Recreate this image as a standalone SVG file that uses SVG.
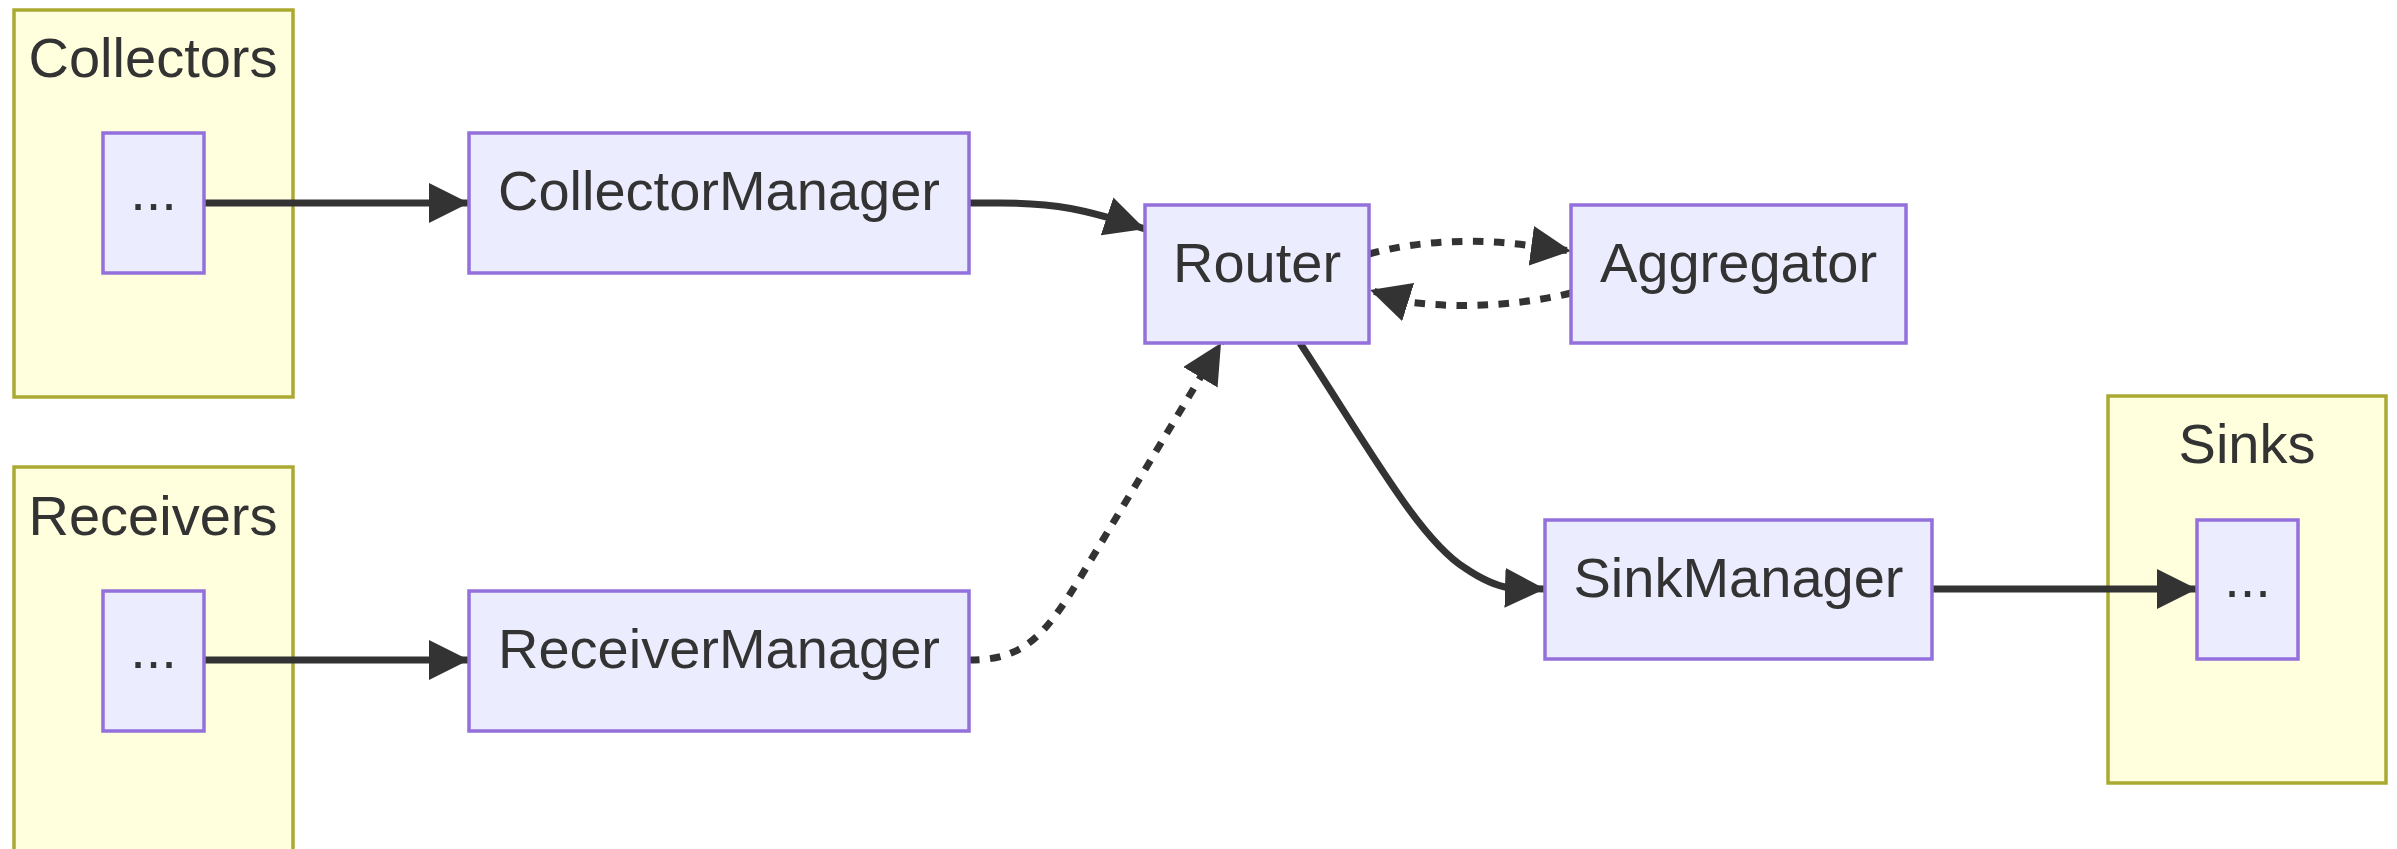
<svg xmlns="http://www.w3.org/2000/svg" width="2397" height="849" viewBox="0 0 2397 849">
<style>
.cluster rect{fill:#ffffde;stroke:#aaaa33;stroke-width:3.5}
.node rect{fill:#ECECFF;stroke:#9370DB;stroke-width:3.5}
text{font-family:"Liberation Sans",Arial,sans-serif;font-size:56px;fill:#333333;text-anchor:middle}
.edge{fill:none;stroke:#333333;stroke-width:7}
.dotted{stroke-dasharray:10.5 10.5}
</style>
<defs>
<marker id="arrow" viewBox="0 0 10 10" refX="10" refY="5" markerUnits="userSpaceOnUse" markerWidth="40" markerHeight="40" orient="auto">
<path d="M0,0 L10,5 L0,10 z" fill="#333333"/>
</marker>
</defs>
<rect width="2397" height="849" fill="#ffffff"/>
<g id="cluster-collectors" class="cluster">
<rect x="14" y="10" width="279" height="387"/>
<text x="153" y="77">Collectors</text>
</g>
<g id="cluster-receivers" class="cluster">
<rect x="14" y="467" width="279" height="390"/>
<text x="153" y="535">Receivers</text>
</g>
<g id="cluster-sinks" class="cluster">
<rect x="2108" y="396" width="278" height="387"/>
<text x="2247" y="463">Sinks</text>
</g>
<g id="connectors">
<path class="edge" d="M204,203 L469,203" marker-end="url(#arrow)"/>
<path class="edge" d="M204,660 L469,660" marker-end="url(#arrow)"/>
<path class="edge" d="M969,203 L1000,203 C1055,203 1085,209 1145,229" marker-end="url(#arrow)"/>
<path class="edge dotted" d="M969,660 C1025,660 1045,635 1080,578 L1221,343" marker-end="url(#arrow)"/>
<path class="edge dotted" d="M1369,254 C1420,240 1480,238 1533,246 L1571,251" marker-end="url(#arrow)"/>
<path class="edge dotted" d="M1571,293 C1530,303 1470,310 1408,302 L1370,290" marker-end="url(#arrow)"/>
<path class="edge" d="M1300,343 C1370,450 1420,540 1465,568 Q1490,585 1510,588 L1545,589" marker-end="url(#arrow)"/>
<path class="edge" d="M1932,589 L2197,589" marker-end="url(#arrow)"/>
</g>
<g id="node-collectors-dots" class="node">
<rect x="103" y="133" width="101" height="140"/>
<text x="153.5" y="210">...</text>
</g>
<g id="node-receivers-dots" class="node">
<rect x="103" y="591" width="101" height="140"/>
<text x="153.5" y="668">...</text>
</g>
<g id="node-collectormanager" class="node">
<rect x="469" y="133" width="500" height="140"/>
<text x="719" y="210">CollectorManager</text>
</g>
<g id="node-receivermanager" class="node">
<rect x="469" y="591" width="500" height="140"/>
<text x="719" y="668">ReceiverManager</text>
</g>
<g id="node-router" class="node">
<rect x="1145" y="205" width="224" height="138"/>
<text x="1257" y="282">Router</text>
</g>
<g id="node-aggregator" class="node">
<rect x="1571" y="205" width="335" height="138"/>
<text x="1738.5" y="282">Aggregator</text>
</g>
<g id="node-sinkmanager" class="node">
<rect x="1545" y="520" width="387" height="139"/>
<text x="1738.5" y="597">SinkManager</text>
</g>
<g id="node-sinks-dots" class="node">
<rect x="2197" y="520" width="101" height="139"/>
<text x="2247.5" y="597">...</text>
</g>
</svg>
